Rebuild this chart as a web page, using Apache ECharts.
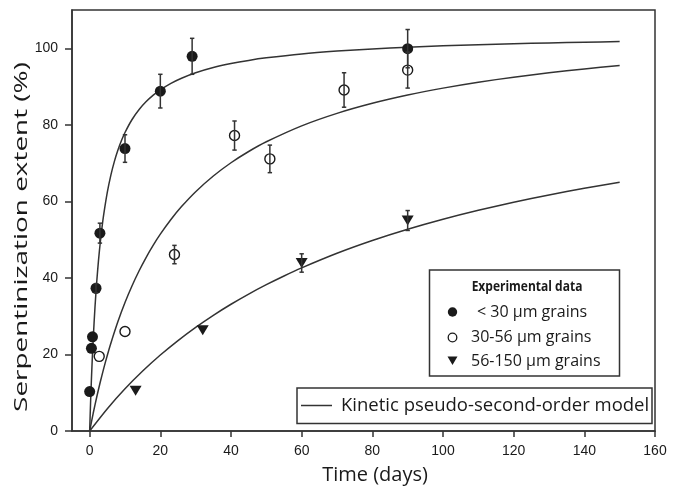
<!DOCTYPE html>
<html>
<head>
<meta charset="utf-8">
<script src="https://cdn.jsdelivr.net/npm/echarts@6/dist/echarts.min.js"></script>
<style>html,body{margin:0;padding:0;background:#fff;}#c{width:685px;height:491px;}</style>
</head>
<body>
<div id="c"></div>
<script>
// ---- data ----
var xTicks = [0, 20, 40, 60, 80, 100, 120, 140, 160];
var yTicks = [0, 20, 40, 60, 80, 100];

// < 30 µm grains (filled circles)
var fineX   = [0, 0.5, 0.8, 1.8, 2.9, 10, 20, 29, 90];
var fineY   = [10.3, 21.6, 24.6, 37.3, 51.7, 73.8, 88.8, 97.9, 99.9];
var fineErr = [0, 0, 0, 1.2, 2.6, 3.6, 4.4, 4.7, 5.0];

// 30-56 µm grains (open circles)
var midX   = [2.7, 10, 24, 41, 51, 72, 90];
var midY   = [19.5, 26.0, 46.1, 77.2, 71.1, 89.1, 94.3];
var midErr = [0, 0, 2.4, 3.8, 3.6, 4.5, 4.7];

// 56-150 µm grains (down triangles)
var coarseX   = [13, 32, 60, 90];
var coarseY   = [10.5, 26.3, 43.9, 55.0];
var coarseErr = [0, 0, 2.4, 2.6];

// model curves
var fitFineX = [0, 0.25, 0.5, 0.75, 1, 1.5, 2, 2.5, 3, 3.5, 4, 5, 6, 7, 8, 9, 10, 12, 14, 16, 18, 20, 23, 26, 30, 35, 40, 45, 50, 60, 70, 80, 90, 100, 110, 120, 130, 140, 150];
var fitFineY = [0, 7.26, 13.57, 19.10, 24.0, 32.28, 39.0, 44.57, 49.26, 53.27, 56.73, 62.4, 66.86, 70.45, 73.41, 75.89, 78.0, 81.39, 84.0, 86.07, 87.75, 89.14, 90.84, 92.18, 93.6, 94.96, 96.0, 96.83, 97.5, 98.53, 99.27, 99.84, 100.29, 100.65, 100.94, 101.19, 101.40, 101.58, 101.74];

var fitMidX = [0, 1, 2, 3, 4, 5, 6, 8, 10, 12, 14, 16, 18, 20, 23, 26, 30, 35, 40, 45, 50, 60, 70, 80, 90, 100, 110, 120, 130, 140, 150];
var fitMidY = [0, 4.63, 8.88, 12.80, 16.43, 19.80, 22.93, 28.59, 33.56, 37.95, 41.87, 45.38, 48.56, 51.43, 55.26, 58.63, 62.53, 66.63, 70.09, 73.03, 75.57, 79.73, 82.99, 85.62, 87.78, 89.59, 91.13, 92.45, 93.60, 94.61, 95.50];

var fitCoarseX = [0, 5, 10, 15, 20, 25, 30, 35, 40, 45, 50, 55, 60, 70, 80, 90, 100, 110, 120, 130, 140, 150];
var fitCoarseY = [0, 5.83, 11.02, 15.66, 19.85, 23.63, 27.08, 30.23, 33.12, 35.78, 38.23, 40.51, 42.62, 46.43, 49.76, 52.70, 55.32, 57.66, 59.77, 61.68, 63.41, 65.00];

var legendTitle = 'Experimental data';
var legendNames = ['< 30 µm grains', '30-56 µm grains', '56-150 µm grains'];
var modelName = 'Kinetic pseudo-second-order model';
var xName = 'Time (days)';
var yName = 'Serpentinization extent (%)';

// ---- build ----
function zip(a, b) { return a.map(function (v, i) { return [v, b[i]]; }); }
function zip3(a, b, c) { return a.map(function (v, i) { return [v, b[i], c[i]]; }); }

var INK = '#1a1a1a';
var LINE = '#333';

function errSeries(data) {
  return {
    type: 'custom',
    z: 5,
    silent: true,
    data: data.filter(function (d) { return d[2] > 0; }),
    renderItem: function (params, api) {
      var x = api.value(0), y = api.value(1), e = api.value(2);
      var top = api.coord([x, y + e]);
      var bot = api.coord([x, y - e]);
      var w = 2.2;
      var st = { stroke: LINE, lineWidth: 1.5 };
      return {
        type: 'group',
        children: [
          { type: 'line', shape: { x1: top[0], y1: top[1], x2: bot[0], y2: bot[1] }, style: st },
          { type: 'line', shape: { x1: top[0] - w, y1: top[1], x2: top[0] + w, y2: top[1] }, style: st },
          { type: 'line', shape: { x1: bot[0] - w, y1: bot[1], x2: bot[0] + w, y2: bot[1] }, style: st }
        ]
      };
    }
  };
}

function fitSeries(x, y) {
  return {
    type: 'line', data: zip(x, y), smooth: 0.25,
    showSymbol: false, silent: true, z: 2,
    lineStyle: { color: LINE, width: 1.5 }
  };
}

var chart = echarts.init(document.getElementById('c'), null, { renderer: 'canvas' });
var tickFont = 'Liberation Sans, Arial, sans-serif';
var txtFont = '"Open Sans", "Noto Sans", sans-serif';

var option = {
  backgroundColor: '#fff',
  animation: false,
  grid: { left: 72, right: 30, top: 10, bottom: 60, show: true, borderColor: LINE, borderWidth: 1.5, backgroundColor: 'transparent', containLabel: false, outerBoundsMode: 'none' },
  xAxis: {
    type: 'value', min: -5, max: 160,
    axisLine: { show: true, onZero: false, lineStyle: { color: LINE, width: 1.5 } },
    axisTick: { show: true, inside: false, length: 6, customValues: xTicks, lineStyle: { color: LINE, width: 1.5 } },
    axisLabel: { customValues: xTicks, margin: 13, color: INK, fontSize: 14, fontFamily: tickFont },
    splitLine: { show: false }
  },
  yAxis: {
    type: 'value', min: 0, max: 110,
    axisLine: { show: true, onZero: false, lineStyle: { color: LINE, width: 1.5 } },
    axisTick: { show: true, inside: false, length: 7, customValues: yTicks, lineStyle: { color: LINE, width: 1.5 } },
    axisLabel: { customValues: yTicks, margin: 14, color: INK, fontSize: 14, fontFamily: tickFont },
    splitLine: { show: false }
  },
  series: [
    fitSeries(fitFineX, fitFineY),
    fitSeries(fitMidX, fitMidY),
    fitSeries(fitCoarseX, fitCoarseY),
    {
      type: 'scatter', name: legendNames[0], data: zip(fineX, fineY), z: 4,
      symbol: 'circle', symbolSize: 11, itemStyle: { color: INK, opacity: 1 }
    },
    {
      type: 'scatter', name: legendNames[1], data: zip(midX, midY), z: 4,
      symbol: 'circle', symbolSize: 10, itemStyle: { color: '#fff', borderColor: INK, borderWidth: 1.4, opacity: 1 }
    },
    {
      type: 'scatter', name: legendNames[2], data: zip(coarseX, coarseY), z: 4,
      symbol: 'triangle', symbolRotate: 180, symbolSize: [12, 10], itemStyle: { color: INK, opacity: 1 }
    },
    errSeries(zip3(fineX, fineY, fineErr)),
    errSeries(zip3(midX, midY, midErr)),
    errSeries(zip3(coarseX, coarseY, coarseErr))
  ],
  graphic: [
    // axis titles
    { type: 'text', x: 22, y: 237, rotation: Math.PI / 2, scaleX: 1.55, z: 10,
      style: { text: yName, fontSize: 18, fontFamily: txtFont, fill: INK, textAlign: 'center', textVerticalAlign: 'middle' } },
    { type: 'text', x: 375, y: 475, scaleX: 1.0, z: 10,
      style: { text: xName, fontSize: 20, fontFamily: txtFont, fill: INK, textAlign: 'center', textVerticalAlign: 'middle' } },
    // experimental data legend
    { type: 'rect', shape: { x: 429.5, y: 270, width: 190, height: 106 }, z: 10,
      style: { fill: '#fff', stroke: LINE, lineWidth: 1.5 } },
    { type: 'text', x: 527, y: 287, scaleX: 0.8, z: 11,
      style: { text: legendTitle, fontSize: 15, fontWeight: 'bold', fontFamily: txtFont, fill: INK, textAlign: 'center', textVerticalAlign: 'middle' } },
    { type: 'circle', shape: { cx: 452.5, cy: 312, r: 4.7 }, z: 11, style: { fill: INK } },
    { type: 'circle', shape: { cx: 452.5, cy: 337.5, r: 4.3 }, z: 11, style: { fill: '#fff', stroke: INK, lineWidth: 1.3 } },
    { type: 'polygon', shape: { points: [[447.5, 356.5], [457.5, 356.5], [452.5, 365]] }, z: 11, style: { fill: INK } },
    { type: 'text', x: 477, y: 312, z: 11,
      style: { text: legendNames[0], fontSize: 16, fontFamily: txtFont, fill: INK, textAlign: 'left', textVerticalAlign: 'middle' } },
    { type: 'text', x: 471, y: 337.5, z: 11,
      style: { text: legendNames[1], fontSize: 16, fontFamily: txtFont, fill: INK, textAlign: 'left', textVerticalAlign: 'middle' } },
    { type: 'text', x: 471, y: 361, z: 11,
      style: { text: legendNames[2], fontSize: 16, fontFamily: txtFont, fill: INK, textAlign: 'left', textVerticalAlign: 'middle' } },
    // model legend
    { type: 'rect', shape: { x: 297, y: 388, width: 355, height: 35.5 }, z: 10,
      style: { fill: '#fff', stroke: LINE, lineWidth: 1.5 } },
    { type: 'line', shape: { x1: 301, y1: 405.5, x2: 332, y2: 405.5 }, z: 11, style: { stroke: LINE, lineWidth: 1.5 } },
    { type: 'text', x: 341, y: 405.5, z: 11,
      style: { text: modelName, fontSize: 18.5, fontFamily: txtFont, fill: INK, textAlign: 'left', textVerticalAlign: 'middle' } }
  ]
};
chart.setOption(option);
</script>
</body>
</html>
